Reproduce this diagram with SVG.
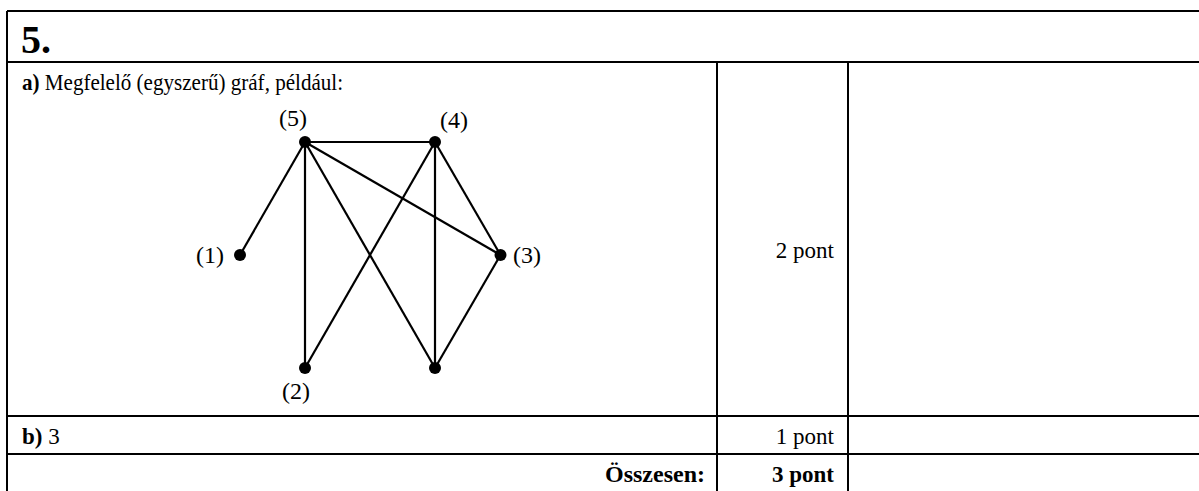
<svg xmlns="http://www.w3.org/2000/svg" width="1199" height="491" viewBox="0 0 1199 491">
<style>
.tl{stroke:#000;stroke-width:2;fill:none}
.e{stroke:#000;stroke-width:2.2;fill:none}
.n{fill:#000}
text{fill:#000}
</style>
<rect width="1199" height="491" fill="#fff"/>
<g id="table">
<line class="tl" x1="7" y1="11" x2="1199" y2="11"/>
<line class="tl" x1="7" y1="11" x2="7" y2="491"/>
<line class="tl" x1="7" y1="62" x2="1199" y2="62"/>
<line class="tl" x1="717" y1="62" x2="717" y2="491"/>
<line class="tl" x1="848" y1="62" x2="848" y2="491"/>
<line class="tl" x1="7" y1="416" x2="1199" y2="416"/>
<line class="tl" x1="7" y1="454" x2="1199" y2="454"/>
</g>
<g id="texts" font-family="'Liberation Serif', 'Times New Roman', serif">
<text x="21" y="53" font-size="40" font-weight="bold">5.</text>
<text x="22" y="90" font-size="23" textLength="321" lengthAdjust="spacingAndGlyphs"><tspan font-weight="bold">a)</tspan> Megfelelő (egyszerű) gráf, például:</text>
<text x="834" y="258" font-size="23" text-anchor="end">2 pont</text>
<text x="22" y="444" font-size="23"><tspan font-weight="bold">b)</tspan> 3</text>
<text x="834" y="444" font-size="23" text-anchor="end">1 pont</text>
<text x="705" y="482" font-size="24" font-weight="bold" text-anchor="end">Összesen:</text>
<text x="834" y="482" font-size="23" font-weight="bold" text-anchor="end">3 pont</text>
</g>
<g id="connectors">
<line class="e" x1="305" y1="142" x2="435" y2="142"/>
<line class="e" x1="305" y1="142" x2="240" y2="255"/>
<line class="e" x1="305" y1="142" x2="305" y2="368"/>
<line class="e" x1="305" y1="142" x2="435" y2="368"/>
<line class="e" x1="305" y1="142" x2="500.5" y2="255"/>
<line class="e" x1="435" y1="142" x2="305" y2="368"/>
<line class="e" x1="435" y1="142" x2="435" y2="368"/>
<line class="e" x1="435" y1="142" x2="500.5" y2="255"/>
<line class="e" x1="500.5" y1="255" x2="435" y2="368"/>
</g>
<g font-family="'Liberation Serif', 'Times New Roman', serif" font-size="24" text-anchor="middle">
<g id="node5"><circle class="n" cx="305" cy="142" r="6"/><text x="293" y="126">(5)</text></g>
<g id="node4"><circle class="n" cx="435" cy="142" r="6"/><text x="454" y="128">(4)</text></g>
<g id="node1"><circle class="n" cx="240" cy="255" r="6"/><text x="210" y="263">(1)</text></g>
<g id="node3"><circle class="n" cx="500.5" cy="255" r="6"/><text x="527" y="263">(3)</text></g>
<g id="node2"><circle class="n" cx="305" cy="368" r="6"/><text x="296" y="399">(2)</text></g>
<g id="node6"><circle class="n" cx="435" cy="368" r="6"/></g>
</g>
</svg>
